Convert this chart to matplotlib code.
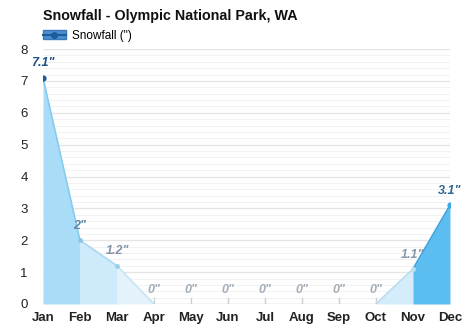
import matplotlib.pyplot as plt
import numpy as np
from matplotlib.patches import Patch
from matplotlib.lines import Line2D
from matplotlib.ticker import MultipleLocator
from matplotlib.legend_handler import HandlerTuple

plt.rcParams['font.family'] = ['Liberation Sans', 'DejaVu Sans']

months = ["Jan", "Feb", "Mar", "Apr", "May", "Jun",
          "Jul", "Aug", "Sep", "Oct", "Nov", "Dec"]
snowfall = [7.1, 2, 1.2, 0, 0, 0, 0, 0, 0, 0, 1.1, 3.1]
labels = ['7.1"', '2"', '1.2"', '0"', '0"', '0"', '0"', '0"', '0"', '0"', '1.1"', '3.1"']

# fill colour of the segment that starts at each month
seg_fill = ["#a9ddf7", "#cdebfa", "#e4f3fb", None, None, None,
            None, None, None, "#d5edfa", "#5cbdf0"]
seg_line = ["#86cbee", "#a9d8f0", "#c6e4f3", None, None, None,
            None, None, None, "#b6dcf1", "#3aa3dd"]
dot_col = ["#1d5c9b", "#8cc6e6", "#9ccde8", "#c8d0d8", "#c8d0d8", "#c8d0d8",
           "#c8d0d8", "#c8d0d8", "#c8d0d8", "#c8d0d8", "#bcdff2", "#3aa6e6"]
lab_col = ["#1c4f86", "#5f88a8", "#8294a6", "#a3adb7", "#a3adb7", "#a3adb7",
           "#a3adb7", "#a3adb7", "#a3adb7", "#a3adb7", "#8797a8", "#2e6a98"]

fig = plt.figure(figsize=(4.74, 3.31), dpi=100)
ax = fig.add_axes([0.0907, 0.0816, 0.8586, 0.770])

x = np.arange(len(months))
for i in range(len(months) - 1):
    if seg_fill[i] is None:
        continue
    xs = [x[i], x[i + 1]]
    ys = [snowfall[i], snowfall[i + 1]]
    ax.fill_between(xs, 0, ys, color=seg_fill[i], lw=0, zorder=2)
    ax.plot(xs, ys, color=seg_line[i], lw=1.2, zorder=3)

for i, v in enumerate(snowfall):
    if v > 0:
        ax.plot(x[i], v, "o", ms=4.5 if i in (0, 11) else 3.5,
                color=dot_col[i], mec="none", zorder=4)
    else:
        ax.plot([x[i], x[i]], [0, 0.2], color=dot_col[i], lw=1, zorder=4)
    ax.annotate(labels[i], (x[i], v), xytext=(0, 6), textcoords="offset points",
                ha="center", va="bottom", fontsize=9, fontweight="bold",
                fontstyle="italic", color=lab_col[i], zorder=5)

ax.set_xlim(0, 11)
ax.set_ylim(0, 8)
ax.set_xticks(x)
ax.set_xticklabels(months, fontweight="bold", fontsize=9.5)
ax.yaxis.set_major_locator(MultipleLocator(1))
ax.yaxis.set_minor_locator(MultipleLocator(0.2))
ax.tick_params(axis="both", length=0, colors="#222222", labelsize=9.5)
ax.tick_params(axis="x", pad=6)
ax.tick_params(axis="y", pad=11)
ax.tick_params(axis="y", which="minor", length=0)
ax.grid(axis="y", which="major", color="#e4e4e4", lw=0.9, zorder=0)
ax.grid(axis="y", which="minor", color="#f2f2f2", lw=0.7, zorder=0)
for s in ax.spines.values():
    s.set_visible(False)
ax.axhline(0, color="#d8d8d8", lw=1, zorder=1)

fig.text(0.09, 0.953, "Snowfall - Olympic National Park, WA",
         fontsize=10.3, fontweight="bold", color="#111111", va="center")

handle = (Patch(facecolor="#4a8fcf", edgecolor="#3a78b8"),
          Line2D([], [], color="#1d5c9b", marker="o", ms=4, lw=1.5))
fig.legend([handle], ['Snowfall (")'], handler_map={tuple: HandlerTuple(ndivide=1)},
           loc="center left", bbox_to_anchor=(0.09, 0.892), frameon=False,
           fontsize=8.5, handlelength=2.0, handleheight=0.7, handletextpad=0.45,
           borderpad=0, borderaxespad=0)

fig.savefig("out.png", dpi=100)
